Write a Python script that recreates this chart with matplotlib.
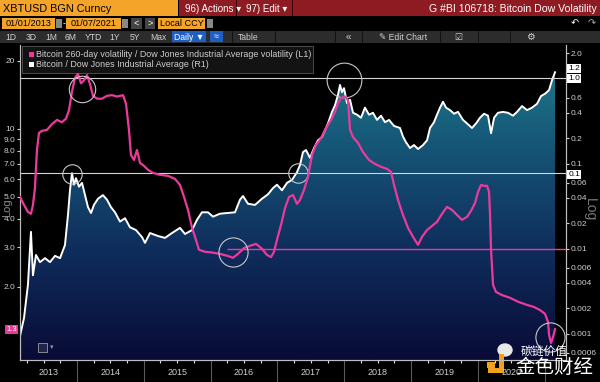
import numpy as np
import matplotlib
matplotlib.use("Agg")
import matplotlib.pyplot as plt
from matplotlib.patches import Rectangle, Ellipse
from matplotlib.colors import LinearSegmentedColormap
from matplotlib.ticker import NullLocator, NullFormatter
from matplotlib.transforms import blended_transform_factory

plt.rcParams['font.family'] = ['Liberation Sans', 'DejaVu Sans']

# Bitcoin / Dow Jones Industrial Average (R1), decimal years
ratio_years = [2013.147, 2013.207, 2013.266, 2013.311, 2013.341, 2013.386, 2013.446, 2013.521,
               2013.596, 2013.671, 2013.746, 2013.820, 2013.865, 2013.895, 2013.925, 2013.955,
               2013.985, 2014.030, 2014.075, 2014.120, 2014.165, 2014.210, 2014.254, 2014.314,
               2014.389, 2014.449, 2014.509, 2014.569, 2014.644, 2014.719, 2014.793, 2014.883,
               2014.973, 2015.018, 2015.093, 2015.213, 2015.317, 2015.422, 2015.542, 2015.617,
               2015.722, 2015.796, 2015.871, 2015.961, 2016.036, 2016.141, 2016.260, 2016.365,
               2016.440, 2016.485, 2016.560, 2016.665, 2016.769, 2016.859, 2016.934, 2016.994,
               2017.069, 2017.144, 2017.219, 2017.293, 2017.338, 2017.383, 2017.428, 2017.488,
               2017.548, 2017.608, 2017.668, 2017.713, 2017.757, 2017.817, 2017.862, 2017.907,
               2017.937, 2017.967, 2017.997, 2018.042, 2018.087, 2018.132, 2018.192, 2018.251,
               2018.311, 2018.371, 2018.431, 2018.491, 2018.551, 2018.611, 2018.671, 2018.746,
               2018.835, 2018.880, 2018.925, 2018.985, 2019.045, 2019.105, 2019.180, 2019.240,
               2019.284, 2019.344, 2019.389, 2019.434, 2019.479, 2019.524, 2019.584, 2019.644,
               2019.704, 2019.778, 2019.838, 2019.913, 2019.973, 2020.033, 2020.093, 2020.153,
               2020.198, 2020.243, 2020.302, 2020.377, 2020.452, 2020.527, 2020.587, 2020.662,
               2020.737, 2020.811, 2020.886, 2020.946, 2021.006, 2021.066, 2021.111, 2021.156]
ratio = [0.00095, 0.00154, 0.0038, 0.0159, 0.0049, 0.0085, 0.0070, 0.0078,
         0.0070, 0.0083, 0.0078, 0.0111, 0.0251, 0.049, 0.078, 0.057,
         0.068, 0.054, 0.060, 0.043, 0.031, 0.0265, 0.033, 0.039,
         0.043, 0.038, 0.031, 0.027, 0.021, 0.023, 0.018, 0.0167,
         0.0138, 0.0118, 0.0154, 0.0142, 0.0135, 0.0154, 0.0177, 0.015,
         0.0167, 0.022, 0.027, 0.027, 0.024, 0.026, 0.0265, 0.027,
         0.038, 0.042, 0.034, 0.033, 0.039, 0.044, 0.052, 0.057,
         0.049, 0.060, 0.065, 0.080, 0.097, 0.138, 0.146, 0.118,
         0.154, 0.19, 0.208, 0.25, 0.30, 0.41, 0.49, 0.65,
         0.85, 0.70, 0.78, 0.52, 0.57, 0.40, 0.38, 0.35,
         0.46, 0.38, 0.40, 0.33, 0.37, 0.31, 0.33, 0.28,
         0.265, 0.21, 0.18, 0.154, 0.167, 0.15, 0.167, 0.19,
         0.265, 0.31, 0.38, 0.46, 0.54, 0.46, 0.43, 0.39,
         0.41, 0.33, 0.30, 0.265, 0.30, 0.35, 0.39, 0.37,
         0.23, 0.35, 0.40, 0.41, 0.40, 0.37, 0.41, 0.48,
         0.43, 0.46, 0.51, 0.63, 0.67, 0.74, 0.97, 1.2]

# Bitcoin 260-day volatility / DJIA volatility (L1)
vol_years = [2013.147, 2013.207, 2013.266, 2013.311, 2013.341, 2013.371, 2013.401, 2013.431,
             2013.476, 2013.551, 2013.626, 2013.701, 2013.775, 2013.835, 2013.880, 2013.925,
             2013.970, 2014.015, 2014.060, 2014.105, 2014.150, 2014.195, 2014.240, 2014.299,
             2014.374, 2014.449, 2014.524, 2014.599, 2014.689, 2014.734, 2014.778, 2014.808,
             2014.853, 2014.898, 2014.943, 2015.003, 2015.063, 2015.138, 2015.243, 2015.362,
             2015.467, 2015.542, 2015.602, 2015.662, 2015.722, 2015.781, 2015.826, 2015.916,
             2016.021, 2016.141, 2016.260, 2016.335, 2016.410, 2016.500, 2016.590, 2016.680,
             2016.769, 2016.844, 2016.904, 2016.949, 2016.994, 2017.054, 2017.114, 2017.174,
             2017.234, 2017.293, 2017.338, 2017.398, 2017.458, 2017.518, 2017.578, 2017.653,
             2017.728, 2017.802, 2017.862, 2017.907, 2017.952, 2018.012, 2018.057, 2018.087,
             2018.132, 2018.207, 2018.281, 2018.371, 2018.461, 2018.551, 2018.641, 2018.701,
             2018.746, 2018.805, 2018.880, 2018.955, 2019.030, 2019.105, 2019.165, 2019.240,
             2019.314, 2019.389, 2019.464, 2019.539, 2019.614, 2019.689, 2019.763, 2019.838,
             2019.898, 2019.958, 2020.003, 2020.048, 2020.093, 2020.138, 2020.168, 2020.183,
             2020.198, 2020.228, 2020.272, 2020.362, 2020.482, 2020.602, 2020.722, 2020.841,
             2020.931, 2021.006, 2021.051, 2021.066, 2021.096, 2021.126, 2021.156]
vol_ratio = [5.0, 4.61, 4.29, 4.21, 4.61, 5.48, 8.07, 9.6,
             9.8, 9.9, 10.5, 10.96, 10.7, 11.1, 12.1, 14.6,
             16.8, 17.5, 15.9, 16.4, 17.3, 15.8, 14.0, 13.6,
             13.6, 14.0, 14.1, 13.9, 14.1, 12.9, 9.9, 7.67,
             7.29, 8.07, 7.07, 6.86, 6.59, 6.39, 6.26, 6.2,
             6.01, 5.65, 5.0, 4.38, 3.65, 3.23, 2.92, 2.86,
             2.84, 2.80, 2.74, 2.69, 2.80, 2.97, 3.04, 3.1,
             2.95, 2.77, 2.71, 2.86, 3.23, 3.76, 4.47, 5.0,
             5.1, 4.66, 4.85, 5.37, 6.13, 7.67, 8.5, 9.1,
             10.1, 10.96, 11.9, 13.0, 13.7, 13.9, 13.4, 9.9,
             9.2, 8.67, 7.9, 7.29, 7.0, 6.8, 6.65, 6.45,
             5.65, 4.85, 4.16, 3.65, 3.33, 3.07, 3.33, 3.57,
             3.72, 3.88, 4.21, 4.52, 4.38, 4.16, 3.96, 4.08,
             4.34, 4.70, 5.26, 5.65, 5.6, 5.6, 5.26, 4.16,
             2.92, 2.04, 1.90, 1.84, 1.79, 1.72, 1.67, 1.63,
             1.58, 1.52, 1.40, 1.23, 1.13, 1.20, 1.3]

year_labels = ['2013', '2014', '2015', '2016', '2017', '2018', '2019', '2020']
left_ticks = [20, 10, 9, 8, 7, 6, 5, 4, 3, 2]
left_labels = ['20', '10', '9.0', '8.0', '7.0', '6.0', '5.0', '4.0', '3.0', '2.0']
right_ticks = [2.0, 0.6, 0.4, 0.2, 0.1, 0.06, 0.04, 0.02, 0.01, 0.006, 0.004, 0.002, 0.001, 0.0006]
right_labels = ['2.0', '0.6', '0.4', '0.2', '0.1', '0.06', '0.04', '0.02', '0.01',
                '0.006', '0.004', '0.002', '0.001', '0.0006']

# highlighted levels and circled spots
level_lines = [1.04, 0.078]
level_labels = ['1.0', '0.1']
pink_level = 0.01
circles_left = [(2014.075, 15.0, 19), (2016.335, 2.86, 21), (2021.081, 1.2, 21)]
circles_right = [(2013.925, 0.076, 14), (2017.308, 0.078, 14), (2017.997, 0.97, 25)]

PINK = '#ec3a9c'
ORANGE = '#f5a42a'
RED = '#8e1a22'
GREY = '#cfcfcf'

W, H = 600, 382
fig = plt.figure(figsize=(6, 3.82), dpi=100, facecolor='black')


def fx(x):
    return x / W


def fy(y):
    return 1 - y / H


def rect(x0, y0, x1, y1, color, ec='none', lw=0):
    fig.add_artist(Rectangle((fx(x0), fy(y1)), (x1 - x0) / W, (y1 - y0) / H,
                             transform=fig.transFigure, facecolor=color, edgecolor=ec, lw=lw))


def label(x, y, s, size, color, ha='left', **kw):
    fig.text(fx(x), fy(y), s, fontsize=size, color=color, ha=ha, va='center', **kw)


# ---- toolbar (Bloomberg header) ----
rect(0, 0, 178, 16, ORANGE)
rect(179, 0, 600, 16, RED)
rect(236, 0, 237, 16, '#3a0508')
rect(292, 0, 293, 16, '#3a0508')
label(3, 8.5, 'XBTUSD BGN Curncy', 7.8, 'black')
label(185, 8.5, '96) Actions \u25be', 7, 'white')
label(246, 8.5, '97) Edit \u25be', 7, 'white')
label(597, 8.5, 'G #BI 106718: Bitcoin Dow Volatility', 7.6, 'white', ha='right')

rect(2, 18, 55, 29, ORANGE)
rect(56, 19, 62, 28, '#888888')
label(62.5, 23.5, '-', 6.5, 'white')
rect(66, 18, 121, 29, ORANGE)
rect(122, 19, 128, 28, '#888888')
rect(131, 18, 142, 29, '#444444')
rect(145, 18, 155, 29, '#444444')
rect(158, 18, 205, 29, ORANGE)
rect(207, 19, 213, 28, '#888888')
label(28.5, 23.5, '01/01/2013', 6.6, 'black', ha='center')
label(93.5, 23.5, '01/07/2021', 6.6, 'black', ha='center')
label(136.5, 23.5, '<', 6.5, 'white', ha='center')
label(150, 23.5, '>', 6.5, 'white', ha='center')
label(181.5, 23.5, 'Local CCY', 6.6, 'black', ha='center')
label(575, 23.5, '\u21b6', 7, 'white', ha='center')
label(592, 23.5, '\u21b7', 7, '#aaaaaa', ha='center')

rect(0, 30.5, 600, 43, '#2c2c2c')
for px, s in [(11, '1D'), (31, '3D'), (51, '1M'), (71, '6M'), (93, 'YTD'),
              (115, '1Y'), (135, '5Y'), (158, 'Max')]:
    label(px, 37, s, 6.2, GREY, ha='center')
rect(172, 31.5, 206, 42, '#1f5fc4')
label(189, 37, 'Daily \u25bc', 6.2, 'white', ha='center')
rect(210, 31.5, 223, 42, '#1f5fc4')
label(216.5, 37, '\u2248', 6.5, 'white', ha='center')
label(248, 37, 'Table', 6.2, GREY, ha='center')
for sx in [232, 275, 335, 362, 440, 478, 510]:
    rect(sx, 31, sx + 1, 43, '#111111')
label(348, 37, '\u00ab', 7, GREY, ha='center')
label(403, 37, '\u270e Edit Chart', 6.2, GREY, ha='center')
label(458, 37, '\u2611', 6.5, GREY, ha='center')
label(530, 37, '\u2699', 7, GREY, ha='center')

# ---- axes ----
pos = [fx(20), fy(360), (566 - 20) / W, (360 - 45) / H]
ax_bg = fig.add_axes(pos, zorder=-1)
ax_bg.set_axis_off()
ax = fig.add_axes(pos, zorder=2)
ax2 = ax.twinx()
ax2.set_zorder(1)
ax.patch.set_visible(False)
ax2.patch.set_visible(False)

xmin, xmax = 2013.147, 2021.320
ax.set_xlim(xmin, xmax)
ax.set_yscale('log')
ax.set_ylim(0.95, 23.5)
ax2.set_yscale('log')
ax2.set_ylim(0.000494, 2.51)

# gradient area under the R1 series
cmap = LinearSegmentedColormap.from_list(
    'bbg', [(0, '#090b36'), (0.35, '#0f2d5c'), (0.7, '#165878'), (1, '#22808f')])
grad = np.linspace(0, 1, 256).reshape(-1, 1)
im = ax_bg.imshow(grad, extent=[0, 1, 0, 1], origin='lower', aspect='auto', cmap=cmap)
ax_bg.set_xlim(0, 1)
ax_bg.set_ylim(0, 1)
poly = ax2.fill_between(ratio_years, 1e-6, ratio, facecolor='none', edgecolor='none')
im.set_clip_path(poly.get_paths()[0], transform=ax2.transData)

ax2.plot(ratio_years, ratio, color='white', lw=1.4, zorder=3)
for lv in level_lines:
    ax2.axhline(lv, color='#d4d4d4', lw=0.8, zorder=4)
ax2.hlines(pink_level, 2016.25, xmax, color=PINK, lw=1.0, zorder=4)

ax.plot(vol_years, vol_ratio, color=PINK, lw=1.6, zorder=3)

for cx, cy, ms in circles_left:
    ax.plot([cx], [cy], 'o', mfc='none', mec='#c8c8c8', ms=ms, mew=0.8, zorder=5)
for cx, cy, ms in circles_right:
    ax2.plot([cx], [cy], 'o', mfc='none', mec='#c8c8c8', ms=ms, mew=0.8, zorder=5)

# ticks
ax.set_yticks(left_ticks)
ax.set_yticklabels(left_labels)
ax.yaxis.set_minor_locator(NullLocator())
ax.yaxis.set_minor_formatter(NullFormatter())
ax.tick_params(axis='y', colors=GREY, labelsize=6, length=2.5, width=0.8, pad=1)

ax2.set_yticks(right_ticks)
ax2.set_yticklabels(right_labels)
ax2.yaxis.set_minor_locator(NullLocator())
ax2.yaxis.set_minor_formatter(NullFormatter())
ax2.tick_params(axis='y', colors=GREY, labelsize=6, length=2.5, width=0.8, pad=1)

ax.set_xticks(np.arange(2014, 2022))
ax.set_xticklabels([])
ax.set_xticks([q for q in np.arange(2013.25, 2021.2, 0.25) if q % 1 != 0], minor=True)
ax.tick_params(axis='x', which='major', length=16, width=0.8, color='#5a5a5a')
ax.tick_params(axis='x', which='minor', length=1.8, width=0.8, color='#dddddd')

year_pos = [(xmin + 2014) / 2] + [y + 0.5 for y in range(2014, 2021)]
for xp, s in zip(year_pos, year_labels):
    ax.text(xp, -0.041, s, transform=ax.get_xaxis_transform(), ha='center', va='center',
            color=GREY, fontsize=6.5)

for a in (ax, ax2):
    a.spines['top'].set_visible(False)
    for side in ('left', 'right', 'bottom'):
        a.spines[side].set_color('#bdbdbd')
        a.spines[side].set_linewidth(0.8)

# value boxes
tr_r = blended_transform_factory(ax2.transAxes, ax2.transData)
box_w = dict(boxstyle='square,pad=0.12', fc='white', ec='none')
ax2.annotate('1.2', (1.004, ratio[-1]), xycoords=tr_r, xytext=(0, 3), textcoords='offset points',
             ha='left', va='center', fontsize=6, color='black', bbox=box_w, annotation_clip=False)
for lv, s in zip(level_lines, level_labels):
    ax2.annotate(s, (1.004, lv), xycoords=tr_r, xytext=(0, -1), textcoords='offset points',
                 ha='left', va='center', fontsize=6, color='black', bbox=box_w,
                 annotation_clip=False)
tr_l = blended_transform_factory(ax.transAxes, ax.transData)
ax.text(-0.006, vol_ratio[-1], '1.3', transform=tr_l, ha='right', va='center', fontsize=5.5,
        color='white', bbox=dict(boxstyle='square,pad=0.15', fc='#e8389a', ec='none'))

label(7, 208, 'Log', 8, '#8a8a8a', ha='center', rotation=90)
label(590, 210, 'Log', 10, '#777777', ha='center', rotation=270)

# legend
rect(22, 46, 313, 73, '#131313', ec='#555555', lw=0.6)
rect(29, 52, 34, 57, PINK)
rect(29, 62, 34, 67, 'white')
label(36, 54.5, 'Bitcoin 260-day volatility / Dow Jones Industrial Average volatility (L1)', 6.4, GREY)
label(36, 64.5, 'Bitcoin / Dow Jones Industrial Average (R1)', 6.4, GREY)

# small chart-type icon
rect(38, 343, 47, 352, '#20244a', ec='#9a9a9a', lw=0.6)
label(50, 347.5, '\u25be', 5, '#9a9a9a')

# watermark
fig.add_artist(Ellipse((fx(505), fy(350)), 14 / W, 12 / H,
                       transform=fig.transFigure, color='#e8e8e8'))
label(521, 351, '碳链价值', 8.5, 'white', family=['Noto Sans CJK SC'])
rect(487, 362, 495, 368, '#f0a21c')
rect(499, 354, 504, 372, '#f0a21c')
rect(488, 368, 504, 373, '#f0a21c')
label(515, 367, '金色财经', 14, 'white', family=['Noto Sans CJK SC'])

fig.savefig('out.png', dpi=100, facecolor='black')
